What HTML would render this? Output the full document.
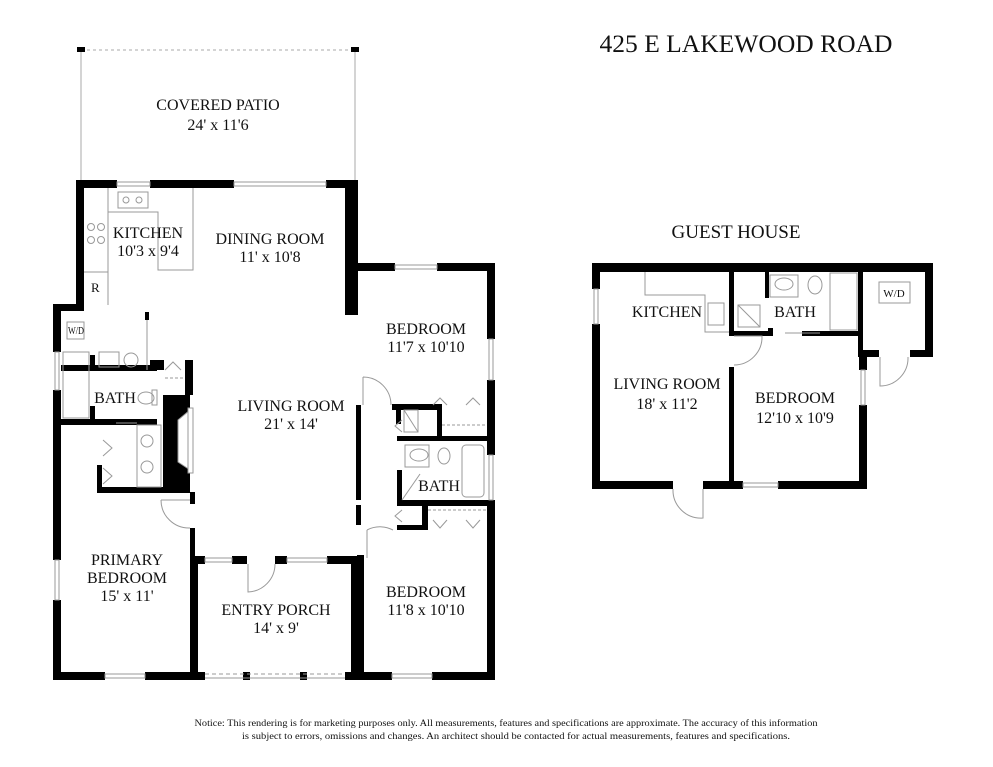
<!DOCTYPE html>
<html><head><meta charset="utf-8"><style>
html,body{margin:0;padding:0;background:#fff;}
svg{display:block;}
text{font-family:"Liberation Serif",serif;fill:#111;}
</style></head><body>
<svg width="993" height="767" viewBox="0 0 993 767" xmlns="http://www.w3.org/2000/svg">
<rect width="993" height="767" fill="#fff"/>
<text x="746" y="52" font-size="25" text-anchor="middle" textLength="293" lengthAdjust="spacingAndGlyphs">425 E LAKEWOOD ROAD</text>

<!-- Covered patio -->
<g fill="none" stroke="#aaa" stroke-width="1">
<line x1="81" y1="50" x2="81" y2="181"/>
<line x1="355" y1="50" x2="355" y2="181"/>
<line x1="81" y1="50" x2="355" y2="50" stroke-dasharray="3 3"/>
</g>
<rect x="77" y="47" width="8" height="5" fill="#000"/>
<rect x="351" y="47" width="8" height="5" fill="#000"/>
<text x="218" y="110" font-size="16" text-anchor="middle">COVERED PATIO</text>
<text x="218" y="130" font-size="16" text-anchor="middle">24' x 11'6</text>

<!-- MAIN HOUSE walls -->
<g fill="#000">
<rect x="76" y="180" width="41" height="8"/>
<rect x="150" y="180" width="84" height="8"/>
<rect x="326" y="180" width="32" height="8"/>
<rect x="76" y="180" width="8" height="130"/>
<rect x="53" y="304" width="31" height="7"/>
<rect x="53" y="304" width="8" height="48"/>
<rect x="53" y="390" width="8" height="170"/>
<rect x="53" y="600" width="8" height="80"/>
<rect x="53" y="672" width="52" height="8"/>
<rect x="145" y="672" width="60" height="8"/>
<rect x="243" y="672" width="7" height="8"/>
<rect x="300" y="672" width="7" height="8"/>
<rect x="345" y="672" width="47" height="8"/>
<rect x="432" y="672" width="63" height="8"/>
<rect x="345" y="180" width="13" height="135"/>
<rect x="345" y="263" width="50" height="8"/>
<rect x="437" y="263" width="58" height="8"/>
<rect x="487" y="263" width="8" height="76"/>
<rect x="487" y="380" width="8" height="75"/>
<rect x="487" y="500" width="8" height="180"/>
<rect x="356" y="405" width="5" height="95"/>
<rect x="356" y="505" width="5" height="20"/>
<rect x="357" y="555" width="7" height="125"/>
<rect x="392" y="404" width="50" height="6"/>
<rect x="437" y="404" width="5" height="35"/>
<rect x="397" y="436" width="90" height="5"/>
<rect x="396" y="404" width="5" height="20"/>
<rect x="397" y="470" width="5" height="30"/>
<rect x="397" y="500" width="90" height="6"/>
<rect x="422" y="500" width="6" height="30"/>
<rect x="397" y="525" width="30" height="5"/>
<rect x="483" y="500" width="4" height="5"/>
<rect x="145" y="312" width="4" height="8"/>
<rect x="61" y="365" width="96" height="6"/>
<rect x="90" y="355" width="5" height="15"/>
<rect x="90" y="406" width="5" height="18"/>
<rect x="61" y="419" width="96" height="6"/>
<rect x="146" y="365" width="10" height="5"/>
<rect x="150" y="360" width="14" height="10"/>
<rect x="163" y="395" width="27" height="97"/>
<rect x="185" y="360" width="8" height="35"/>
<rect x="97" y="487" width="93" height="6"/>
<rect x="97" y="465" width="5" height="27"/>
<rect x="190" y="492" width="5" height="12"/>
<rect x="190" y="528" width="5" height="35"/>
<rect x="190" y="556" width="15" height="8"/>
<rect x="232" y="556" width="15" height="8"/>
<rect x="275" y="556" width="12" height="8"/>
<rect x="327" y="556" width="30" height="8"/>
<rect x="190" y="556" width="8" height="124"/>
<rect x="351" y="556" width="8" height="124"/>
</g>
<path d="M190 410 L178 420 L178 462 L190 470 Z" fill="#fff" stroke="#999" stroke-width="1"/>
<rect x="188" y="408" width="5" height="65" fill="#fff" stroke="#999" stroke-width="1"/>

<g fill="none" stroke="#999" stroke-width="1">
<rect x="117" y="182" width="33" height="4"/>
<rect x="234" y="182" width="92" height="4"/>
<rect x="395" y="265" width="42" height="4"/>
<rect x="55" y="352" width="4" height="38"/>
<rect x="55" y="560" width="4" height="40"/>
<rect x="489" y="339" width="4" height="41"/>
<rect x="489" y="455" width="4" height="45"/>
<rect x="105" y="674" width="40" height="4"/>
<rect x="392" y="674" width="40" height="4"/>
<line x1="205" y1="674" x2="345" y2="674" stroke-dasharray="4 3"/>
<line x1="205" y1="678" x2="345" y2="678"/>
<rect x="205" y="558" width="27" height="4"/>
<rect x="287" y="558" width="40" height="4"/>
<!-- kitchen counters -->
<path d="M108 305 L108 212 L158 212 L158 270 L193 270 L193 188"/>
<line x1="108" y1="188" x2="108" y2="212"/>
<rect x="118" y="192" width="30" height="16"/>
<circle cx="126" cy="200" r="3"/><circle cx="139" cy="200" r="3"/>
<circle cx="91" cy="227" r="3.5"/><circle cx="101" cy="227" r="3.5"/>
<circle cx="91" cy="240" r="3.5"/><circle cx="101" cy="240" r="3.5"/>
<line x1="84" y1="272" x2="108" y2="272"/>
<rect x="67" y="322" width="17" height="17"/>
<rect x="99" y="352" width="20" height="15"/>
<circle cx="131" cy="360" r="7"/>
<line x1="147" y1="320" x2="147" y2="370"/>
<rect x="63" y="352" width="26" height="66"/>
<ellipse cx="146" cy="398" rx="8" ry="6"/>
<rect x="152" y="390" width="5" height="15"/>
<rect x="137" y="425" width="24" height="62"/>
<circle cx="147" cy="441" r="6"/><circle cx="147" cy="467" r="6"/>
<line x1="116" y1="423" x2="137" y2="423"/>
<path d="M103 440 L112 448 L103 456 M103 468 L112 476 L103 484"/>
<path d="M165 370 L173 362 L181 370"/>
<line x1="165" y1="378" x2="183" y2="378" stroke-dasharray="3 2"/>
<path d="M161 500 A28 28 0 0 0 190 528 M161 500 L190 500"/>
<path d="M248 564 L248 592 A28 28 0 0 0 275 564"/>
<path d="M363 377 L363 405 M363 377 A28 28 0 0 1 391 405"/>
<path d="M404 410 L404 432 L418 432 L418 410 Z M404 410 L418 432"/>
<path d="M402 420 L395 426 L402 432"/>
<path d="M433 405 L440 398 L447 405 M466 405 L473 398 L480 405"/>
<line x1="442" y1="425" x2="487" y2="425" stroke-dasharray="3 2"/>
<ellipse cx="419" cy="455" rx="9" ry="6"/>
<rect x="405" y="445" width="24" height="22"/>
<ellipse cx="444" cy="456" rx="6" ry="8"/>
<rect x="462" y="445" width="22" height="52" rx="4"/>
<path d="M402 500 L420 474"/>
<path d="M402 510 L395 516 L402 522"/>
<line x1="428" y1="510" x2="487" y2="510" stroke-dasharray="3 2"/>
<path d="M433 520 L440 528 L447 520 M466 520 L473 528 L480 520"/>
<path d="M367 530 L367 558 M367 530 A28 28 0 0 1 393 530"/>
</g>
<text x="91" y="292" font-size="13">R</text>
<text x="68" y="334" font-size="10" textLength="16" lengthAdjust="spacingAndGlyphs">W/D</text>

<g font-size="16" text-anchor="middle">
<text x="148" y="238">KITCHEN</text>
<text x="148" y="256">10'3 x 9'4</text>
<text x="270" y="244">DINING ROOM</text>
<text x="270" y="262">11' x 10'8</text>
<text x="426" y="334">BEDROOM</text>
<text x="426" y="352">11'7 x 10'10</text>
<text x="291" y="411">LIVING ROOM</text>
<text x="291" y="429">21' x 14'</text>
<text x="115" y="403">BATH</text>
<text x="439" y="491">BATH</text>
<text x="127" y="565">PRIMARY</text>
<text x="127" y="583">BEDROOM</text>
<text x="127" y="601">15' x 11'</text>
<text x="276" y="615">ENTRY PORCH</text>
<text x="276" y="633">14' x 9'</text>
<text x="426" y="597">BEDROOM</text>
<text x="426" y="615">11'8 x 10'10</text>
</g>

<!-- GUEST HOUSE -->
<text x="736" y="238" font-size="19" text-anchor="middle">GUEST HOUSE</text>
<g fill="#000">
<rect x="592" y="263" width="341" height="9"/>
<rect x="592" y="263" width="8" height="26"/>
<rect x="592" y="324" width="8" height="165"/>
<rect x="592" y="481" width="81" height="8"/>
<rect x="703" y="481" width="40" height="8"/>
<rect x="778" y="481" width="89" height="8"/>
<rect x="858" y="263" width="5" height="94"/>
<rect x="859" y="350" width="8" height="20"/>
<rect x="859" y="405" width="8" height="84"/>
<rect x="859" y="350" width="20" height="7"/>
<rect x="910" y="350" width="23" height="7"/>
<rect x="925" y="263" width="8" height="94"/>
<rect x="729" y="272" width="5" height="63"/>
<rect x="729" y="367" width="5" height="118"/>
<rect x="729" y="331" width="44" height="5"/>
<rect x="765" y="272" width="4" height="26"/>
<rect x="768" y="328" width="5" height="5"/>
<rect x="802" y="331" width="58" height="5"/>
</g>
<g fill="none" stroke="#999" stroke-width="1">
<rect x="594" y="289" width="4" height="35"/>
<rect x="861" y="370" width="4" height="35"/>
<rect x="743" y="483" width="35" height="4"/>
<path d="M645 272 L645 295 L705 295 L705 332 L729 332"/>
<rect x="708" y="303" width="16" height="22"/>
<rect x="738" y="305" width="22" height="22"/><path d="M738 305 L760 327"/>
<rect x="770" y="275" width="28" height="22"/>
<ellipse cx="784" cy="284" rx="9" ry="6"/>
<ellipse cx="815" cy="285" rx="7" ry="9"/>
<rect x="830" y="273" width="27" height="57"/>
<line x1="785" y1="333" x2="820" y2="333"/>
<path d="M734 336 L762 336 A28 28 0 0 1 734 365"/>
<path d="M703 489 L703 518 A28 28 0 0 1 673 489"/>
<path d="M880 357 L880 386 A28 28 0 0 0 908 357"/>
<rect x="879" y="282" width="31" height="21"/>
</g>
<text x="894" y="297" font-size="11" text-anchor="middle">W/D</text>
<g font-size="16" text-anchor="middle">
<text x="667" y="317">KITCHEN</text>
<text x="795" y="317">BATH</text>
<text x="667" y="389">LIVING ROOM</text>
<text x="667" y="409">18' x 11'2</text>
<text x="795" y="403">BEDROOM</text>
<text x="795" y="423">12'10 x 10'9</text>
</g>

<text x="506" y="726" font-size="9.5" text-anchor="middle" textLength="623" lengthAdjust="spacingAndGlyphs">Notice: This rendering is for marketing purposes only. All measurements, features and specifications are approximate. The accuracy of this information</text>
<text x="516" y="739" font-size="9.5" text-anchor="middle" textLength="548" lengthAdjust="spacingAndGlyphs">is subject to errors, omissions and changes. An architect should be contacted for actual measurements, features and specifications.</text>
</svg>
</body></html>
